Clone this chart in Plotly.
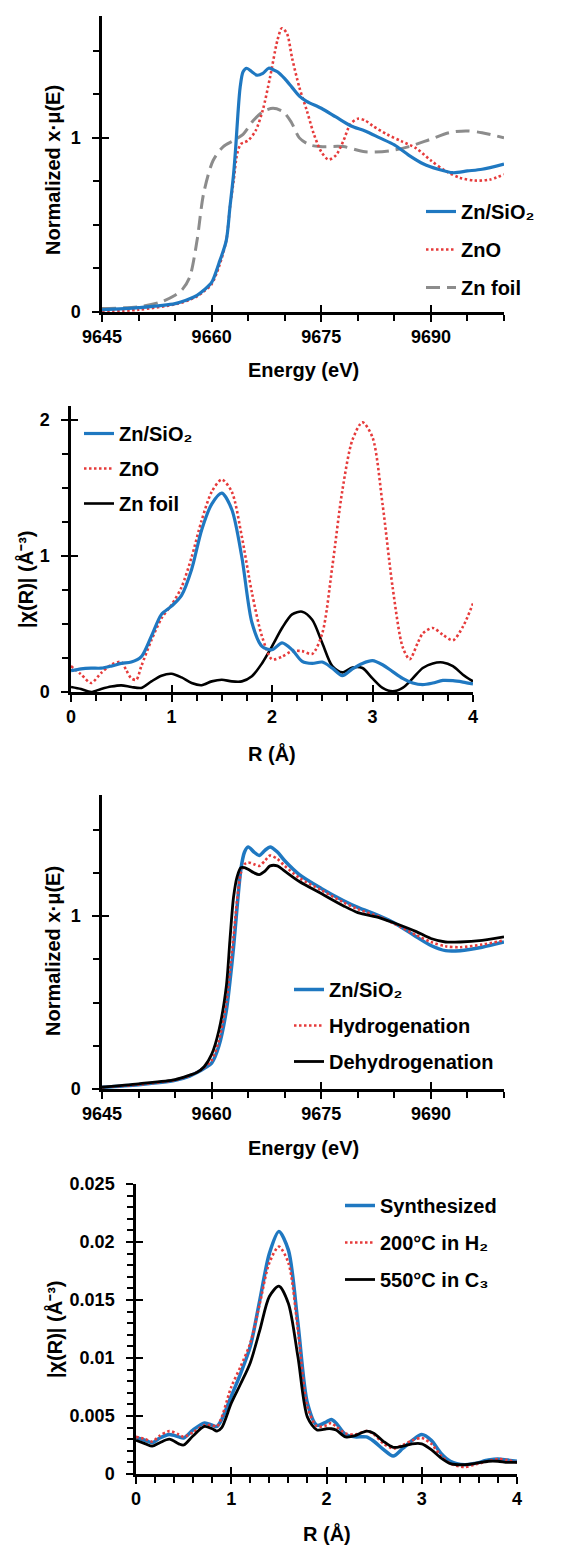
import plotly.graph_objects as go

W, H = 571, 1547
FONT = "Liberation Sans"
BLUE = "#1F78C1"
RED = "#E63B3B"
GREY = "#8C8C8C"
BLACK = "#000000"

# ---------------- Panel 1: XANES, Zn/SiO2 vs references ----------------
e1_sio2 = [9645, 9650, 9655, 9657, 9658, 9659, 9660, 9661, 9662, 9662.5, 9663, 9663.3, 9663.6, 9663.9,
           9664.3, 9664.8, 9665.5, 9666.2, 9667, 9667.8, 9668.5, 9669, 9670, 9671, 9672, 9673, 9675,
           9677, 9679, 9681, 9683, 9685, 9687, 9689, 9691, 9693, 9695, 9697, 9700]
mu1_sio2 = [0.013, 0.025, 0.048, 0.076, 0.096, 0.128, 0.17, 0.28, 0.41, 0.60, 0.79, 0.95, 1.14, 1.29,
            1.38, 1.40, 1.38, 1.36, 1.37, 1.40, 1.39, 1.38, 1.34, 1.29, 1.24, 1.21, 1.17,
            1.12, 1.07, 1.04, 1.00, 0.96, 0.90, 0.85, 0.82, 0.80, 0.81, 0.82, 0.85]
e1_zno = [9645, 9650, 9655, 9657, 9658, 9659, 9660, 9661, 9662, 9662.5, 9663, 9663.5, 9664, 9664.5,
          9665, 9666, 9667, 9668, 9669, 9669.6, 9670.3, 9671, 9672, 9673, 9674, 9675, 9676, 9677,
          9678, 9679, 9680, 9681, 9682, 9684, 9686, 9688, 9690, 9692, 9694, 9696, 9698, 9700]
mu1_zno = [0.0, 0.013, 0.044, 0.07, 0.09, 0.12, 0.16, 0.26, 0.41, 0.60, 0.75, 0.91, 0.965, 0.975,
           0.985, 1.04, 1.16, 1.35, 1.56, 1.63, 1.60, 1.46, 1.29, 1.16, 1.02, 0.92, 0.875, 0.90,
           0.98, 1.08, 1.11, 1.10, 1.07, 1.02, 0.98, 0.94, 0.87, 0.81, 0.77, 0.755, 0.76, 0.79]
e1_foil = [9645, 9650, 9653, 9655, 9656, 9657, 9658, 9658.9, 9660.2, 9661.6, 9663, 9664.3, 9665.7,
           9667, 9668.4, 9669.8, 9670.9, 9672, 9673.4, 9674.8, 9678, 9681, 9684.3, 9687, 9689.8,
           9692.5, 9694.8, 9697, 9700]
mu1_foil = [0.02, 0.03, 0.057, 0.096, 0.13, 0.20, 0.41, 0.68, 0.87, 0.95, 0.985, 1.02, 1.10,
            1.15, 1.17, 1.15, 1.09, 1.00, 0.96, 0.95, 0.95, 0.92, 0.925, 0.95, 0.99,
            1.03, 1.04, 1.03, 1.00]

# ---------------- Panel 2: FT-EXAFS, Zn/SiO2 vs references ----------------
r2 = [0.0, 0.1, 0.2, 0.3, 0.4, 0.5, 0.6, 0.7, 0.8, 0.9, 1.0, 1.1, 1.2, 1.3, 1.4, 1.5, 1.6, 1.7, 1.8, 1.9,
      2.0, 2.1, 2.2, 2.3, 2.4, 2.5, 2.6, 2.7, 2.8, 2.9, 3.0, 3.1, 3.2, 3.3, 3.4, 3.5, 3.6, 3.7, 3.8, 3.9, 4.0]
chi2_sio2 = [0.156, 0.17, 0.175, 0.175, 0.19, 0.21, 0.22, 0.26, 0.41, 0.57, 0.63, 0.71, 0.90, 1.19, 1.38,
             1.46, 1.34, 0.99, 0.51, 0.335, 0.31, 0.36, 0.31, 0.225, 0.21, 0.22, 0.175, 0.12, 0.17, 0.21,
             0.23, 0.20, 0.15, 0.10, 0.066, 0.054, 0.066, 0.085, 0.083, 0.073, 0.06]
r2_zno = [0.0, 0.1, 0.2, 0.3, 0.4, 0.5, 0.55, 0.6, 0.65, 0.7, 0.8, 0.9, 1.0, 1.1, 1.2, 1.3, 1.4, 1.5, 1.6,
          1.7, 1.8, 1.9, 2.0, 2.1, 2.2, 2.3, 2.4, 2.5, 2.6, 2.7, 2.8, 2.9, 3.0, 3.1, 3.2, 3.3, 3.37,
          3.45, 3.5, 3.6, 3.7, 3.8, 3.9, 4.0]
chi2_zno = [0.19, 0.13, 0.066, 0.14, 0.20, 0.22, 0.16, 0.10, 0.09, 0.19, 0.38, 0.54, 0.64, 0.77, 0.99,
            1.26, 1.47, 1.56, 1.47, 1.14, 0.73, 0.41, 0.24, 0.26, 0.30, 0.30, 0.28, 0.43, 0.92, 1.48,
            1.85, 1.98, 1.87, 1.38, 0.77, 0.33, 0.24, 0.36, 0.43, 0.47, 0.42, 0.38, 0.48, 0.65]
chi2_foil = [0.037, 0.022, 0.0, 0.022, 0.04, 0.049, 0.037, 0.03, 0.078, 0.12, 0.134, 0.107, 0.066,
             0.05, 0.078, 0.09, 0.078, 0.078, 0.115, 0.21, 0.335, 0.47, 0.57, 0.59, 0.53, 0.36, 0.19,
             0.144, 0.18, 0.176, 0.10, 0.03, 0.005, 0.03, 0.10, 0.176, 0.21, 0.217, 0.19, 0.127, 0.078]

# ---------------- Panel 3: XANES under reaction conditions ----------------
e3 = [9645, 9650, 9655, 9657, 9658, 9659, 9660, 9661, 9662, 9662.5, 9663, 9663.5, 9664, 9664.5, 9665,
      9665.8, 9666.5, 9667.3, 9668, 9669, 9670, 9672, 9675, 9678, 9680, 9683, 9685, 9688, 9690, 9692,
      9694, 9697, 9700]
mu3_sio2 = [0.01, 0.025, 0.05, 0.075, 0.095, 0.12, 0.15, 0.25, 0.45, 0.62, 0.82, 1.06, 1.27, 1.37, 1.40,
            1.37, 1.35, 1.38, 1.40, 1.37, 1.32, 1.24, 1.16, 1.09, 1.05, 1.00, 0.96, 0.88, 0.83, 0.80,
            0.80, 0.82, 0.85]
mu3_hydro = [0.01, 0.025, 0.052, 0.078, 0.098, 0.125, 0.165, 0.28, 0.50, 0.68, 0.88, 1.10, 1.25, 1.30,
             1.31, 1.30, 1.29, 1.32, 1.35, 1.33, 1.29, 1.22, 1.15, 1.08, 1.04, 0.995, 0.955, 0.89, 0.85,
             0.825, 0.82, 0.835, 0.86]
mu3_dehydro = [0.01, 0.03, 0.054, 0.08, 0.096, 0.13, 0.20, 0.34, 0.59, 0.86, 1.11, 1.23, 1.28, 1.28,
               1.27, 1.25, 1.24, 1.26, 1.29, 1.29, 1.26, 1.20, 1.13, 1.06, 1.02, 0.99, 0.96, 0.91, 0.87,
               0.85, 0.85, 0.86, 0.88]

# ---------------- Panel 4: FT-EXAFS under reaction conditions ----------------
r4 = [0.0, 0.1, 0.17, 0.25, 0.35, 0.45, 0.5, 0.6, 0.72, 0.8, 0.85, 0.9, 1.0, 1.1, 1.2, 1.3, 1.4, 1.5,
      1.6, 1.7, 1.8, 1.9, 2.0, 2.05, 2.1, 2.2, 2.3, 2.42, 2.5, 2.6, 2.7, 2.8, 2.9, 3.0, 3.1, 3.2, 3.3,
      3.45, 3.55, 3.7, 3.8, 3.9, 4.0]
chi4_synth = [0.00316, 0.0029, 0.0027, 0.0031, 0.0034, 0.0032, 0.0031, 0.0038, 0.0044, 0.0042, 0.0041,
              0.0047, 0.0067, 0.0087, 0.011, 0.015, 0.019, 0.0209, 0.0193, 0.013, 0.0061, 0.0042, 0.0045,
              0.0047, 0.0044, 0.0034, 0.0032, 0.0032, 0.0028, 0.0021, 0.00155, 0.0022, 0.0029, 0.0034,
              0.0029, 0.0018, 0.0011, 0.0008, 0.0009, 0.0012, 0.0013, 0.0012, 0.0011]
chi4_h2 = [0.0032, 0.003, 0.0028, 0.0033, 0.0037, 0.0034, 0.0032, 0.0036, 0.0042, 0.0042, 0.0041,
           0.0049, 0.0075, 0.0093, 0.0113, 0.0147, 0.0182, 0.0196, 0.0182, 0.0124, 0.0058, 0.0041, 0.0042,
           0.0044, 0.0041, 0.0035, 0.0034, 0.0037, 0.0034, 0.0026, 0.0022, 0.0025, 0.0029, 0.0031,
           0.0026, 0.0016, 0.0009, 0.0006, 0.0008, 0.0011, 0.0013, 0.0012, 0.001]
chi4_c3 = [0.0029, 0.0026, 0.0024, 0.0027, 0.003, 0.0026, 0.0025, 0.0033, 0.0041, 0.0039, 0.0037,
           0.004, 0.0061, 0.0078, 0.0096, 0.0124, 0.0153, 0.0162, 0.0147, 0.0101, 0.0049, 0.0038, 0.0039,
           0.0039, 0.0038, 0.0032, 0.0033, 0.0037, 0.0035, 0.0028, 0.0023, 0.0024, 0.0026, 0.0026,
           0.0021, 0.0014, 0.0009, 0.0008, 0.0009, 0.0011, 0.0011, 0.001, 0.001]


def xd(a, b):
    return [a / W, b / W]


def yd(top, bottom):
    return [1 - bottom / H, 1 - top / H]


FS_TICK = 18
FS_TEXT = 20
tickfont = dict(family=FONT, size=FS_TICK, color="black", weight="bold")


def main_axis(domain, rng, tick0, dtick, mdtick, **kw):
    d = dict(domain=domain, range=rng, tick0=tick0, dtick=dtick, showline=True, linecolor="black",
             linewidth=2.5, ticks="outside", ticklen=7, tickwidth=2.2, tickcolor="black",
             showgrid=False, zeroline=False, tickfont=tickfont, fixedrange=True, automargin=False,
             minor=dict(ticks="outside", ticklen=6, tickwidth=2, tickcolor="black", dtick=mdtick,
                        tick0=tick0, showgrid=False))
    d.update(kw)
    return d


def over_axis(over, anchor, rng, tick0, dtick):
    return dict(overlaying=over, anchor=anchor, range=rng, tick0=tick0, dtick=dtick, ticks="inside",
                ticklen=7, tickwidth=2.2, tickcolor="black", showticklabels=False, showline=False,
                showgrid=False, zeroline=False, fixedrange=True, automargin=False)


fig = go.Figure()

DOT = "2.5px,2.5px"


def line(x, y, name, color, dash, width, xa, ya, leg, rank):
    fig.add_trace(go.Scatter(x=x, y=y, name=name, mode="lines", xaxis=xa, yaxis=ya, legend=leg,
                             legendgroup=leg + name, legendrank=rank,
                             line=dict(color=color, dash=dash, width=width, shape="spline", smoothing=0.8),
                             hoverinfo="skip"))


# draw order: bottom first; legendrank sets legend order
line(e1_foil, mu1_foil, "Zn foil", GREY, "14px,7px", 3, "x", "y", "legend", 3)
line(e1_zno, mu1_zno, "ZnO", RED, DOT, 2.6, "x", "y", "legend", 2)
line(e1_sio2, mu1_sio2, "Zn/SiO₂", BLUE, "solid", 3.2, "x", "y", "legend", 1)

line(r2, chi2_foil, "Zn foil", BLACK, "solid", 2.6, "x2", "y2", "legend2", 3)
line(r2_zno, chi2_zno, "ZnO", RED, DOT, 2.6, "x2", "y2", "legend2", 2)
line(r2, chi2_sio2, "Zn/SiO₂", BLUE, "solid", 3.2, "x2", "y2", "legend2", 1)

line(e3, mu3_sio2, "Zn/SiO₂", BLUE, "solid", 3.5, "x3", "y3", "legend3", 1)
line(e3, mu3_hydro, "Hydrogenation", RED, DOT, 2.6, "x3", "y3", "legend3", 2)
line(e3, mu3_dehydro, "Dehydrogenation", BLACK, "solid", 2.8, "x3", "y3", "legend3", 3)

line(r4, chi4_synth, "Synthesized", BLUE, "solid", 3.5, "x4", "y4", "legend4", 1)
line(r4, chi4_h2, "200°C in H₂", RED, DOT, 2.6, "x4", "y4", "legend4", 2)
line(r4, chi4_c3, "550°C in C₃", BLACK, "solid", 2.8, "x4", "y4", "legend4", 3)

# invisible helpers so overlay axes (inner half of crossing ticks) get drawn
for xa, ya in [("x5", "y"), ("x", "y5"), ("x6", "y2"), ("x2", "y6"), ("x7", "y3"), ("x3", "y7"),
               ("x8", "y4"), ("x4", "y8")]:
    fig.add_trace(go.Scatter(x=[None], y=[None], xaxis=xa, yaxis=ya, showlegend=False, hoverinfo="skip"))


def legend_cfg(x, y, gap):
    return dict(x=x / W, y=1 - y / H, xanchor="left", yanchor="top", bgcolor="rgba(0,0,0,0)",
                itemwidth=30, traceorder="grouped", tracegroupgap=gap,
                font=dict(family=FONT, size=FS_TEXT, color="black", weight="bold"))


E_RANGE = [9645, 9700]
R_RANGE = [0, 4]

fig.update_layout(
    template="none",
    width=W, height=H, margin=dict(l=0, r=0, t=0, b=0, autoexpand=False),
    paper_bgcolor="white", plot_bgcolor="white", showlegend=True,
    xaxis=main_axis(xd(102, 504), E_RANGE, 9645, 15, 5, anchor="y"),
    yaxis=main_axis(yd(16, 312), [0, 1.7], 0, 1, 0.25, anchor="x", ticklabelstandoff=8),
    xaxis2=main_axis(xd(71, 473), R_RANGE, 0, 1, 0.25, anchor="y2"),
    yaxis2=main_axis(yd(406, 692), [0, 2.1], 0, 1, 0.25, anchor="x2", ticklabelstandoff=8),
    xaxis3=main_axis(xd(102, 504), E_RANGE, 9645, 15, 5, anchor="y3"),
    yaxis3=main_axis(yd(795, 1089), [0, 1.7], 0, 1, 0.25, anchor="x3", ticklabelstandoff=8),
    xaxis4=main_axis(xd(136, 517), R_RANGE, 0, 1, 0.2, anchor="y4"),
    yaxis4=main_axis(yd(1184, 1474), [0, 0.025], 0, 0.005, 0.001, anchor="x4", tickformat="~g",
                     ticklabelstandoff=8),
    xaxis5=over_axis("x", "y", E_RANGE, 9645, 15),
    yaxis5=over_axis("y", "x", [0, 1.7], 0, 1),
    xaxis6=over_axis("x2", "y2", R_RANGE, 0, 1),
    yaxis6=over_axis("y2", "x2", [0, 2.1], 0, 1),
    xaxis7=over_axis("x3", "y3", E_RANGE, 9645, 15),
    yaxis7=over_axis("y3", "x3", [0, 1.7], 0, 1),
    xaxis8=over_axis("x4", "y4", R_RANGE, 0, 1),
    yaxis8=over_axis("y4", "x4", [0, 0.025], 0, 0.005),
    legend=legend_cfg(421, 192, 9),
    legend2=legend_cfg(79, 414, 6),
    legend3=legend_cfg(289, 970, 7),
    legend4=legend_cfg(340, 1186, 8),
)

title_font = dict(family=FONT, size=FS_TEXT, color="black", weight="bold")


def ann(text, x, y, rot=0):
    fig.add_annotation(text=text, x=x / W, y=1 - y / H, xref="paper", yref="paper", showarrow=False,
                       textangle=rot, font=title_font, xanchor="center", yanchor="middle")


ann("Normalized x·μ(E)", 53, 170, -90)
ann("Energy (eV)", 303, 370)
ann("|χ(R)| (Å⁻³)", 25, 580, -90)
ann("R (Å)", 272, 753)
ann("Normalized x·μ(E)", 53, 951, -90)
ann("Energy (eV)", 303, 1148)
ann("|χ(R)| (Å⁻³)", 54, 1330, -90)
ann("R (Å)", 327, 1533)

fig.write_html("out.html")
